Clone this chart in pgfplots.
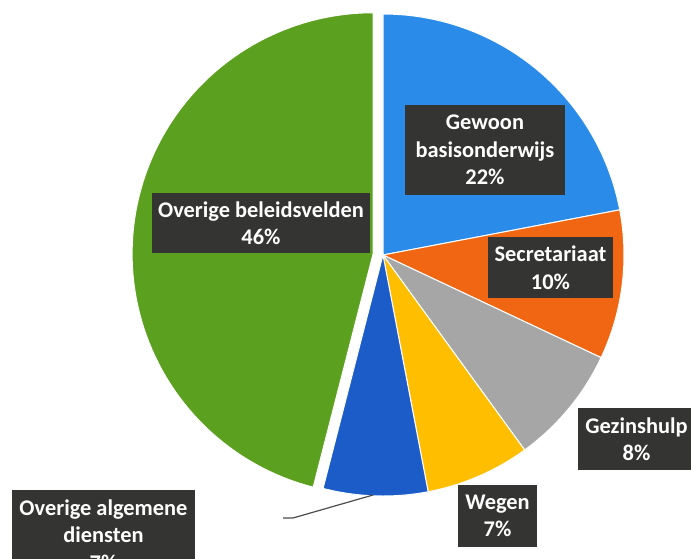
\documentclass[border=0pt]{standalone}
\usepackage{pgfplots}
\pgfplotsset{compat=1.18}
\usepackage{fontspec}
\setmainfont{Carlito}
\definecolor{cBlue}{RGB}{42,140,232}
\definecolor{cOrange}{RGB}{240,102,18}
\definecolor{cGray}{RGB}{166,166,166}
\definecolor{cYellow}{RGB}{255,190,0}
\definecolor{cDark}{RGB}{28,92,200}
\definecolor{cGreen}{RGB}{92,160,32}
\definecolor{boxgray}{RGB}{52,52,50}

\tikzset{lab/.style={fill=boxgray, text=white, align=center, inner sep=0pt,
  font=\fontsize{11.2}{13.75}\selectfont\bfseries}}

% #1 share before this slice (%), #2 share (%), #3 colour, #4 centre x, #5 centre y
\newcommand\slice[5]{%
  \addplot[draw=white, line width=0.5pt, fill=#3, domain={90-3.6*(#1+#2)}:{90-3.6*#1},
    samples=90, variable=\t]
    ({#4+241*cos(\t)}, {#5-241*sin(\t)}) -- (axis cs:#4,#5) -- cycle;
}

\begin{document}
\begin{tikzpicture}
\path[use as bounding box, clip] (0,0) rectangle (345.5pt,279pt);
\begin{axis}[
    at={(0,0)}, anchor=south west,
    scale only axis, width=345.5pt, height=279pt,
    xmin=0, xmax=691, ymin=0, ymax=558,
    y dir=reverse, hide axis, clip=false,
]
% shares: 22, 10, 8, 7, 7, 46
\slice{0}{22}{cBlue}{383}{255}
\slice{22}{10}{cOrange}{383}{255}
\slice{32}{8}{cGray}{383}{255}
\slice{40}{7}{cYellow}{383}{255}
\slice{47}{7}{cDark}{383}{255}
\slice{54}{46}{cGreen}{373.1}{253.75}

\addplot[draw=gray!60!black, line width=0.6pt] coordinates {(283,518) (293,518) (373,495)};

\node[lab, minimum width=80pt, minimum height=45pt] at (axis cs:485,150) {Gewoon\\basisonderwijs\\22\%};
\node[lab, minimum width=62.5pt, minimum height=30.5pt] at (axis cs:550.5,267.5) {Secretariaat\\10\%};
\node[lab, minimum width=58.5pt, minimum height=31pt] at (axis cs:636.5,439) {Gezinshulp\\8\%};
\node[lab, minimum width=39.5pt, minimum height=31pt] at (axis cs:497.5,516) {Wegen\\7\%};
\node[lab, minimum width=91.5pt, minimum height=45pt] at (axis cs:103.5,535) {Overige algemene\\diensten\\7\%};
\node[lab, minimum width=109pt, minimum height=30pt] at (axis cs:261,223) {Overige beleidsvelden\\46\%};
\end{axis}
\end{tikzpicture}
\end{document}
